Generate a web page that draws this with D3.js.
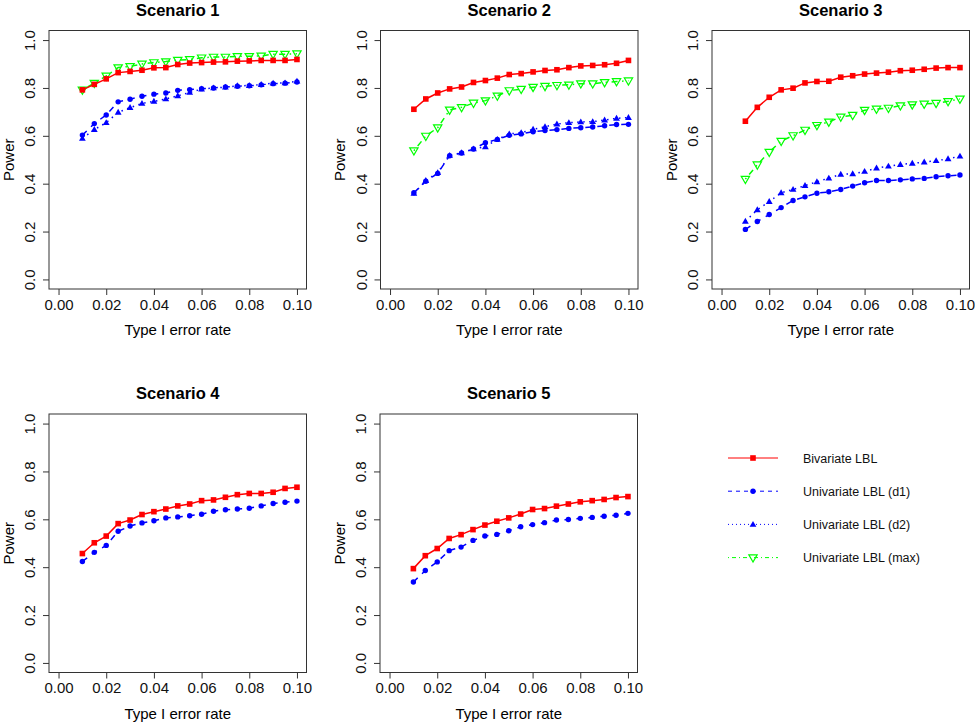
<!DOCTYPE html>
<html>
<head>
<meta charset="utf-8">
<script src="https://cdn.jsdelivr.net/npm/d3@7"></script>
<style>
  body { margin: 0; background: #fff; }
  svg { display: block; font-family: "Liberation Sans", Arial, Helvetica, sans-serif; }
</style>
</head>
<body>
<svg id="chart" width="975" height="722"></svg>
<script>
// type I error rates (x axis)
var alphas = [0.010, 0.015, 0.020, 0.025, 0.030, 0.035, 0.040, 0.045, 0.050, 0.055,
              0.060, 0.065, 0.070, 0.075, 0.080, 0.085, 0.090, 0.095, 0.100];

var xTicks = [0, 0.02, 0.04, 0.06, 0.08, 0.10];
var yTicks = [0, 0.2, 0.4, 0.6, 0.8, 1.0];

var scenarioNames = ["Scenario 1", "Scenario 2", "Scenario 3", "Scenario 4", "Scenario 5"];
var seriesNames = ["Bivariate LBL", "Univariate LBL (d1)", "Univariate LBL (d2)", "Univariate LBL (max)"];

// Scenario 1
var s1Biv = [0.792, 0.815, 0.838, 0.864, 0.869, 0.874, 0.884, 0.885, 0.898, 0.904,
             0.906, 0.908, 0.909, 0.912, 0.913, 0.915, 0.915, 0.915, 0.919];
var s1D1  = [0.603, 0.651, 0.687, 0.742, 0.753, 0.765, 0.774, 0.779, 0.790, 0.793,
             0.797, 0.800, 0.804, 0.807, 0.809, 0.813, 0.818, 0.820, 0.825];
var s1D2  = [0.589, 0.626, 0.655, 0.698, 0.718, 0.735, 0.744, 0.754, 0.767, 0.781,
             0.795, 0.800, 0.803, 0.809, 0.810, 0.814, 0.820, 0.821, 0.828];
var s1Max = [0.792, 0.820, 0.850, 0.885, 0.890, 0.900, 0.906, 0.910, 0.916, 0.919,
             0.926, 0.929, 0.929, 0.932, 0.932, 0.934, 0.941, 0.941, 0.943];

// Scenario 2
var s2Biv = [0.711, 0.754, 0.779, 0.796, 0.804, 0.823, 0.831, 0.841, 0.856, 0.860,
             0.867, 0.873, 0.876, 0.885, 0.892, 0.894, 0.897, 0.903, 0.915];
var s2D1  = [0.362, 0.410, 0.443, 0.517, 0.528, 0.545, 0.571, 0.585, 0.602, 0.608,
             0.617, 0.622, 0.626, 0.631, 0.634, 0.637, 0.642, 0.647, 0.648];
var s2D2  = [0.359, 0.413, 0.446, 0.518, 0.529, 0.545, 0.554, 0.585, 0.608, 0.613,
             0.627, 0.638, 0.649, 0.655, 0.658, 0.659, 0.666, 0.673, 0.676];
var s2Max = [0.538, 0.599, 0.634, 0.708, 0.719, 0.737, 0.747, 0.767, 0.789, 0.795,
             0.803, 0.807, 0.811, 0.813, 0.818, 0.818, 0.823, 0.827, 0.830];

// Scenario 3
var s3Biv = [0.661, 0.719, 0.761, 0.792, 0.799, 0.821, 0.827, 0.828, 0.845, 0.851,
             0.858, 0.862, 0.866, 0.872, 0.874, 0.878, 0.883, 0.885, 0.885];
var s3D1  = [0.209, 0.242, 0.271, 0.300, 0.330, 0.345, 0.360, 0.366, 0.376, 0.390,
             0.404, 0.413, 0.413, 0.416, 0.420, 0.422, 0.429, 0.433, 0.436];
var s3D2  = [0.243, 0.291, 0.325, 0.362, 0.376, 0.392, 0.408, 0.423, 0.439, 0.441,
             0.451, 0.465, 0.473, 0.480, 0.485, 0.490, 0.496, 0.504, 0.515];
var s3Max = [0.419, 0.479, 0.532, 0.578, 0.601, 0.624, 0.644, 0.658, 0.679, 0.686,
             0.707, 0.712, 0.716, 0.726, 0.730, 0.733, 0.736, 0.744, 0.754];

// Scenario 4 (only bivariate and d1)
var s4Biv = [0.457, 0.502, 0.530, 0.582, 0.597, 0.620, 0.632, 0.643, 0.656, 0.664,
             0.678, 0.681, 0.692, 0.703, 0.708, 0.708, 0.713, 0.729, 0.734];
var s4D1  = [0.424, 0.462, 0.491, 0.550, 0.572, 0.585, 0.594, 0.606, 0.610, 0.615,
             0.621, 0.634, 0.640, 0.643, 0.646, 0.656, 0.666, 0.671, 0.676];

// Scenario 5 (only bivariate and d1)
var s5Biv = [0.394, 0.448, 0.478, 0.520, 0.536, 0.557, 0.576, 0.592, 0.606, 0.622,
             0.641, 0.645, 0.655, 0.664, 0.673, 0.678, 0.683, 0.691, 0.695];
var s5D1  = [0.338, 0.386, 0.422, 0.469, 0.484, 0.512, 0.530, 0.537, 0.552, 0.569,
             0.578, 0.586, 0.597, 0.599, 0.604, 0.608, 0.613, 0.617, 0.625];

// look of each series: colour, dash, marker
var styles = [
  {color: "#ff0000", dash: null,            legendDash: null,      shape: "square"},
  {color: "#0000ff", dash: "6,6",           legendDash: "4,4",     shape: "circle"},
  {color: "#0000ff", dash: "1.5,4.5",       legendDash: "1,3",     shape: "triangle"},
  {color: "#00ff00", dash: "1.5,4.5,6,4.5", legendDash: "1,3,4,3", shape: "downTriangle"}
];

var panels = [
  {title: scenarioNames[0], series: [s1Biv, s1D1, s1D2, s1Max], left: 49,    top: 30.5},
  {title: scenarioNames[1], series: [s2Biv, s2D1, s2D2, s2Max], left: 380.5, top: 30.5},
  {title: scenarioNames[2], series: [s3Biv, s3D1, s3D2, s3Max], left: 712,   top: 30.5},
  {title: scenarioNames[3], series: [s4Biv, s4D1],              left: 49,    top: 414},
  {title: scenarioNames[4], series: [s5Biv, s5D1],              left: 380,   top: 414}
];

var boxW = 257.5, boxH = 258.5;
var svg = d3.select("#chart");

function drawMarker(g, shape, color, x, y) {
  if (shape === "square") {
    g.append("rect").attr("x", x - 2.8).attr("y", y - 2.8)
      .attr("width", 5.6).attr("height", 5.6).attr("fill", color);
  } else if (shape === "circle") {
    g.append("circle").attr("cx", x).attr("cy", y).attr("r", 2.7).attr("fill", color);
  } else if (shape === "triangle") {
    g.append("path").attr("d", d3.symbol().type(d3.symbolTriangle).size(20)())
      .attr("transform", "translate(" + x + "," + (y + 0.4) + ")").attr("fill", color);
  } else {
    g.append("path").attr("d", d3.symbol().type(d3.symbolTriangle).size(30)())
      .attr("transform", "translate(" + x + "," + (y - 0.4) + ") rotate(180)")
      .attr("fill", "none").attr("stroke", color).attr("stroke-width", 1.2);
  }
}

panels.forEach(function(p) {
  var x = d3.scaleLinear().domain([-0.004, 0.104]).range([p.left, p.left + boxW]);
  var y = d3.scaleLinear().domain([-0.04, 1.04]).range([p.top + boxH, p.top]);
  var g = svg.append("g");

  // x axis
  var xa = g.append("g").attr("transform", "translate(0," + (p.top + boxH) + ")")
    .call(d3.axisBottom(x).tickValues(xTicks).tickFormat(d3.format(".2f")).tickSize(6).tickPadding(4));
  xa.select(".domain").remove();
  xa.selectAll("text").attr("font-size", "15px").attr("fill", "#111").attr("font-family", null);
  xa.selectAll("line").attr("stroke", "#333");

  // y axis, labels turned like R's default
  var ya = g.append("g").attr("transform", "translate(" + p.left + ",0)")
    .call(d3.axisLeft(y).tickValues(yTicks).tickFormat(d3.format(".1f")).tickSize(6));
  ya.select(".domain").remove();
  ya.selectAll("line").attr("stroke", "#333");
  ya.selectAll("text")
    .attr("font-size", "15px").attr("fill", "#111").attr("font-family", null)
    .attr("x", null).attr("dy", null)
    .attr("text-anchor", "middle")
    .attr("transform", "translate(-14,0) rotate(-90)");

  // frame
  g.append("rect").attr("x", p.left).attr("y", p.top).attr("width", boxW).attr("height", boxH)
    .attr("fill", "none").attr("stroke", "#333").attr("stroke-width", 1);

  // titles
  g.append("text").attr("x", p.left + boxW / 2).attr("y", p.top - 15)
    .attr("text-anchor", "middle").attr("font-size", "16.5px").attr("font-weight", "bold")
    .text(p.title);
  g.append("text").attr("x", p.left + boxW / 2).attr("y", p.top + boxH + 46)
    .attr("text-anchor", "middle").attr("font-size", "15px").text("Type I error rate");
  g.append("text")
    .attr("transform", "translate(" + (p.left - 35.5) + "," + (p.top + boxH / 2) + ") rotate(-90)")
    .attr("text-anchor", "middle").attr("font-size", "15px").text("Power");

  // series: draw in reverse so the bivariate line sits on top
  var line = d3.line().x(function(d, i) { return x(alphas[i]); }).y(function(d) { return y(d); });
  for (var s = p.series.length - 1; s >= 0; s--) {
    var st = styles[s];
    var sg = g.append("g");
    sg.append("path").datum(p.series[s]).attr("d", line)
      .attr("fill", "none").attr("stroke", st.color).attr("stroke-width", 1.5)
      .attr("stroke-dasharray", st.dash);
    p.series[s].forEach(function(v, i) {
      drawMarker(sg, st.shape, st.color, x(alphas[i]), y(v));
    });
  }
});

// legend in the empty sixth slot
var legend = svg.append("g");
var legTop = 458, legStep = 33.2;
seriesNames.forEach(function(name, i) {
  var st = styles[i];
  var yy = legTop + i * legStep;
  legend.append("line").attr("x1", 728).attr("x2", 778).attr("y1", yy).attr("y2", yy)
    .attr("stroke", st.color).attr("stroke-width", 1).attr("stroke-dasharray", st.legendDash);
  drawMarker(legend, st.shape, st.color, 753, yy);
  legend.append("text").attr("x", 803).attr("y", yy + 4.5)
    .attr("font-size", "12.5px").attr("fill", "#111").text(name);
});
</script>
</body>
</html>
